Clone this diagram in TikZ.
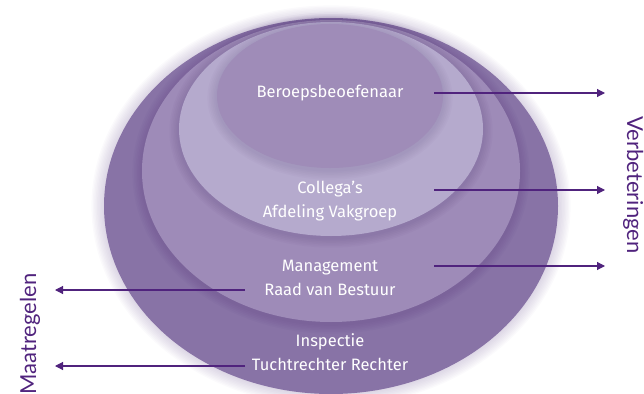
\documentclass[tikz,border=0pt]{standalone}
\usepackage{fontspec}
\setmainfont{Fira Sans}
\newfontfamily\sidefont{Lato}
\usetikzlibrary{arrows.meta}
\definecolor{ringA}{RGB}{136,115,166}
\definecolor{ringB}{RGB}{158,139,184}
\definecolor{ringC}{RGB}{181,170,205}
\definecolor{ringD}{RGB}{159,140,184}
\definecolor{arrowc}{RGB}{80,35,125}
\definecolor{shadowc}{RGB}{70,40,110}
\tikzset{
  lbl/.style={text=white, font=\fontsize{16.5}{24}\selectfont, align=center, inner sep=0pt},
  side/.style={text=arrowc, font=\sidefont\fontsize{22}{24}\selectfont, inner sep=0pt, anchor=base},
  arr/.style={draw=arrowc, line width=1.1pt, -{Triangle[length=8pt,width=8pt]}},
}
\begin{document}
\begin{tikzpicture}[x=1pt,y=-1pt]
\useasboundingbox (0,0) rectangle (644,393);
\clip (0,0) rectangle (644,393);
% outer glow
\foreach \k in {1,...,9}
  \fill[ringA, opacity=0.035] (331,206) ellipse [x radius={227pt+\k*1.4pt}, y radius={188pt+\k*1.4pt}];
\fill[ringA] (331,206) ellipse [x radius=227pt, y radius=188pt];
% shadow of ring 3
\foreach \k in {1,...,6}
  \fill[shadowc, opacity=0.03] (331,173) ellipse [x radius={189pt+\k*1.6pt}, y radius={151pt+\k*1.6pt}];
\fill[ringB] (331,171) ellipse [x radius=189pt, y radius=151pt];
% shadow of ring 2
\foreach \k in {1,...,6}
  \fill[shadowc, opacity=0.03] (331,131) ellipse [x radius={152pt+\k*1.6pt}, y radius={107pt+\k*1.6pt}];
\fill[ringC] (331,129) ellipse [x radius=152pt, y radius=107pt];
% shadow of ring 1
\foreach \k in {1,...,6}
  \fill[shadowc, opacity=0.025] (330,98) ellipse [x radius={113pt+\k*1.6pt}, y radius={72pt+\k*1.6pt}];
\fill[ringD] (330,96) ellipse [x radius=113pt, y radius=72pt];

% labels
\node[lbl] (beroep) at (330,93) {Beroepsbeoefenaar};
\node[lbl] (coll) at (330,201) {Collega’s\\Afdeling Vakgroep};
\node[lbl] (mgmt) at (330,278) {Management\\Raad van Bestuur};
\node[lbl] (insp) at (330,352) {Inspectie\\Tuchtrechter Rechter};

\node[side, rotate=-90] (verb) at (627,185) {Verbeteringen};
\node[side, rotate=90] (maat) at (36,334) {Maatregelen};

% arrows
\coordinate (r1s) at (434,93);  \coordinate (r1e) at (605,93);
\coordinate (r2s) at (434,190); \coordinate (r2e) at (605,190);
\coordinate (r3s) at (434,266); \coordinate (r3e) at (605,266);
\coordinate (l1s) at (245,290); \coordinate (l1e) at (55,290);
\coordinate (l2s) at (245,366); \coordinate (l2e) at (55,366);
\draw[arr] (r1s) -- (r1e);
\draw[arr] (r2s) -- (r2e);
\draw[arr] (r3s) -- (r3e);
\draw[arr] (l1s) -- (l1e);
\draw[arr] (l2s) -- (l2e);
\end{tikzpicture}
\end{document}
